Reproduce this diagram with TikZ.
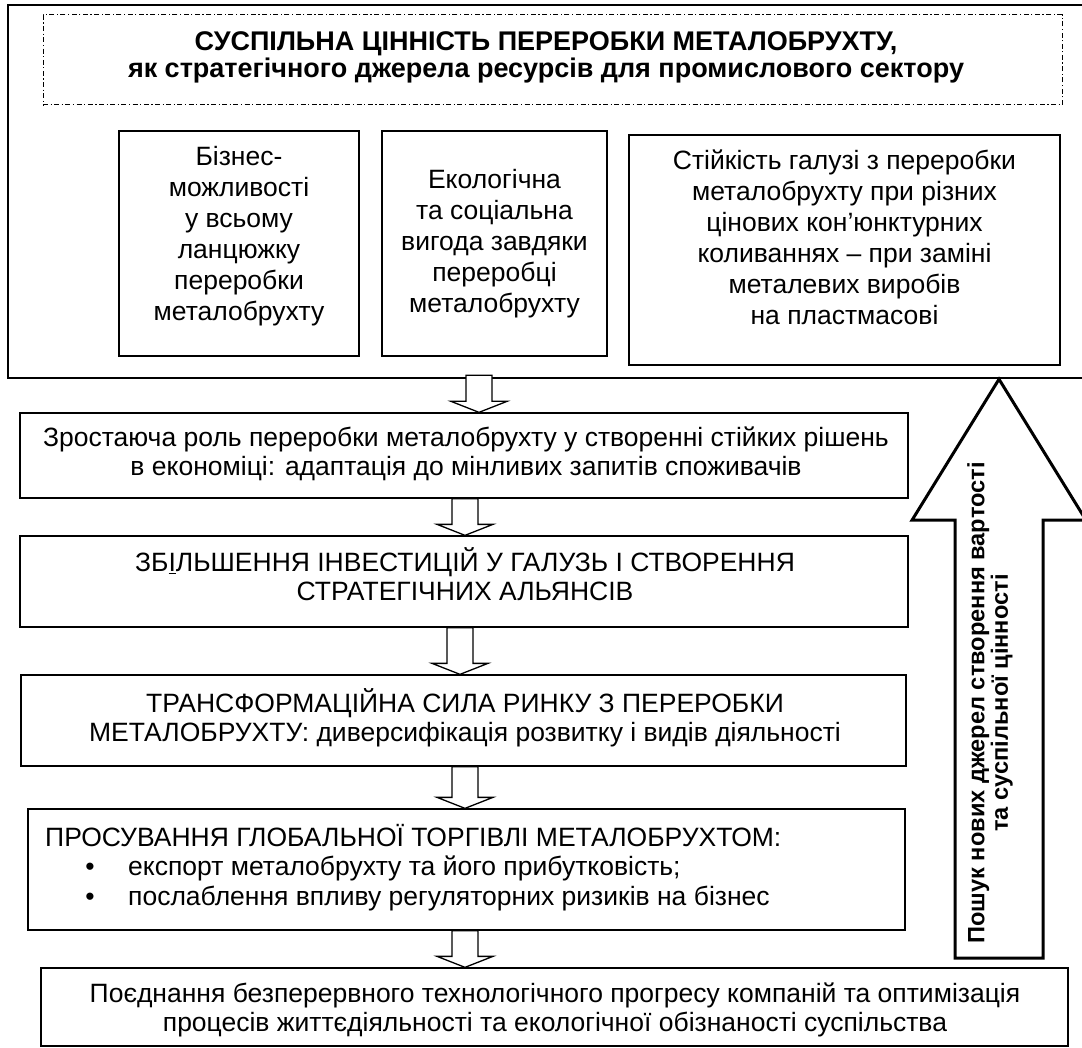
\documentclass[tikz,border=0pt]{standalone}
\usepackage{fontspec}
\setmainfont{Liberation Sans}
\usetikzlibrary{calc,fit}
\newcommand\hdown[2]{%
  \draw[harrow] let \p1=(#1), \p2=(#2) in
    (\x1-13pt,\y1) -- (\x1-13pt,\y2+11pt) -- (\x1-28pt,\y2+11pt) -- (\x2,\y2)
    -- (\x1+28pt,\y2+11pt) -- (\x1+13pt,\y2+11pt) -- (\x1+13pt,\y1) -- cycle;}
\begin{document}
\begin{tikzpicture}[x=1pt,y=-1pt,
  box/.style={draw, line width=1.3pt, inner sep=0pt},
  outerbox/.style={draw, line width=2.4pt, inner sep=0pt},
  dashbox/.style={draw, line width=1pt, inner sep=0pt, dash pattern=on 5pt off 2.5pt on 1.2pt off 2.5pt},
  txt/.style={align=center, inner sep=0pt, font=\fontsize{26.5}{28.5}\selectfont},
  ltxt/.style={inner sep=0pt, font=\fontsize{26.5}{28.5}\selectfont},
  smalltxt/.style={align=center, inner sep=0pt, font=\fontsize{26.5}{31}\selectfont},
  titletxt/.style={align=center, inner sep=0pt, font=\bfseries\fontsize{27}{27}\selectfont},
  uptxt/.style={align=center, inner sep=0pt, rotate=90, font=\bfseries\fontsize{23.6}{23.5}\selectfont},
  harrow/.style={draw, fill=white, line width=1.3pt, line join=miter},
  bigarrow/.style={draw, fill=white, line width=3pt, line join=miter}]
\useasboundingbox[fill=white] (0,0) rectangle (1082,1048);

% top container
\node[outerbox, fit={(8,5) (1092,378)}] (outer) {};
\node[dashbox, fit={(43,15) (1062,105)}] (dash) {};
\node[titletxt] (title) at (546,57) {СУСПІЛЬНА ЦІННІСТЬ ПЕРЕРОБКИ МЕТАЛОБРУХТУ,\\як стратегічного джерела ресурсів для промислового сектору};

\node[box, fit={(119,131) (359,356)}] (b1) {};
\node[box, fit={(382,131) (607,356)}] (b2) {};
\node[box, fit={(629,135) (1060,365)}] (b3) {};
\node[smalltxt] (b1t) at (239,236.6) {Бізнес-\\можливості\\у всьому\\ланцюжку\\переробки\\металобрухту};
\node[smalltxt] (b2t) at (494.5,244) {Екологічна\\та соціальна\\вигода завдяки\\переробці\\металобрухту};
\node[smalltxt] (b3t) at (844.5,237) {Стійкість галузі з переробки\\металобрухту при різних\\цінових кон’юнктурних\\коливаннях – при заміні\\металевих виробів\\на пластмасові};

% chain boxes
\node[box, fit={(20,413) (908,498)}] (A) {};
\node[txt] (At) at (466,454) {Зростаюча роль переробки металобрухту у створенні стійких рішень\\в економіці: адаптація до мінливих запитів споживачів};

\node[box, fit={(20,536) (908,627)}] (B) {};
\node[txt] (Bt) at (465,574) {ЗБ\underline{І}ЛЬШЕННЯ ІНВЕСТИЦІЙ У ГАЛУЗЬ І СТВОРЕННЯ\\СТРАТЕГІЧНИХ АЛЬЯНСІВ};

\node[box, fit={(21,675) (906,766)}] (C) {};
\node[txt] (Ct) at (465,718) {ТРАНСФОРМАЦІЙНА СИЛА РИНКУ З ПЕРЕРОБКИ\\МЕТАЛОБРУХТУ: диверсифікація розвитку і видів діяльності};

\node[box, fit={(28,809) (905,930)}] (D) {};
\node[ltxt, anchor=base west] (Dt) at (45,846) {ПРОСУВАННЯ ГЛОБАЛЬНОЇ ТОРГІВЛІ МЕТАЛОБРУХТОМ:};
\node[ltxt, anchor=base] (Dd1) at (90,875) {•};
\node[ltxt, anchor=base west] (Db1) at (128,875) {експорт металобрухту та його прибутковість;};
\node[ltxt, anchor=base] (Dd2) at (90,905) {•};
\node[ltxt, anchor=base west] (Db2) at (128,905) {послаблення впливу регуляторних ризиків на бізнес};

\node[box, fit={(41,968) (1068,1046)}] (E) {};
\node[txt] (Et) at (555,1010) {Поєднання безперервного технологічного прогресу компаній та оптимізація\\процесів життєдіяльності та екологічної обізнаності суспільства};

% hollow down arrows
\coordinate (x1) at (479,0);
\coordinate (x2) at (465,0);
\coordinate (x3) at (460,0);
\hdown{$(outer.south -| x1)+(0,-4)$}{A.north -| x1}
\hdown{A.south -| x2}{B.north -| x2}
\hdown{B.south -| x3}{C.north -| x3}
\hdown{C.south -| x2}{D.north -| x2}
\hdown{D.south -| x2}{E.north -| x2}

% big up arrow
\coordinate (upb) at (999,958);
\draw[bigarrow] let \p1=(upb), \p2=(outer.south -| upb) in
  (\x1-44pt,\y1) -- (\x1-44pt,\y2-141pt) -- (\x1-87pt,\y2-141pt) -- (\x2,\y2)
  -- (\x1+87pt,\y2-141pt) -- (\x1+44pt,\y2-141pt) -- (\x1+44pt,\y1) -- cycle;
\node[uptxt] (upt) at (990,703) {Пошук нових джерел створення вартості\\та суспільної цінності};
\end{tikzpicture}
\end{document}
